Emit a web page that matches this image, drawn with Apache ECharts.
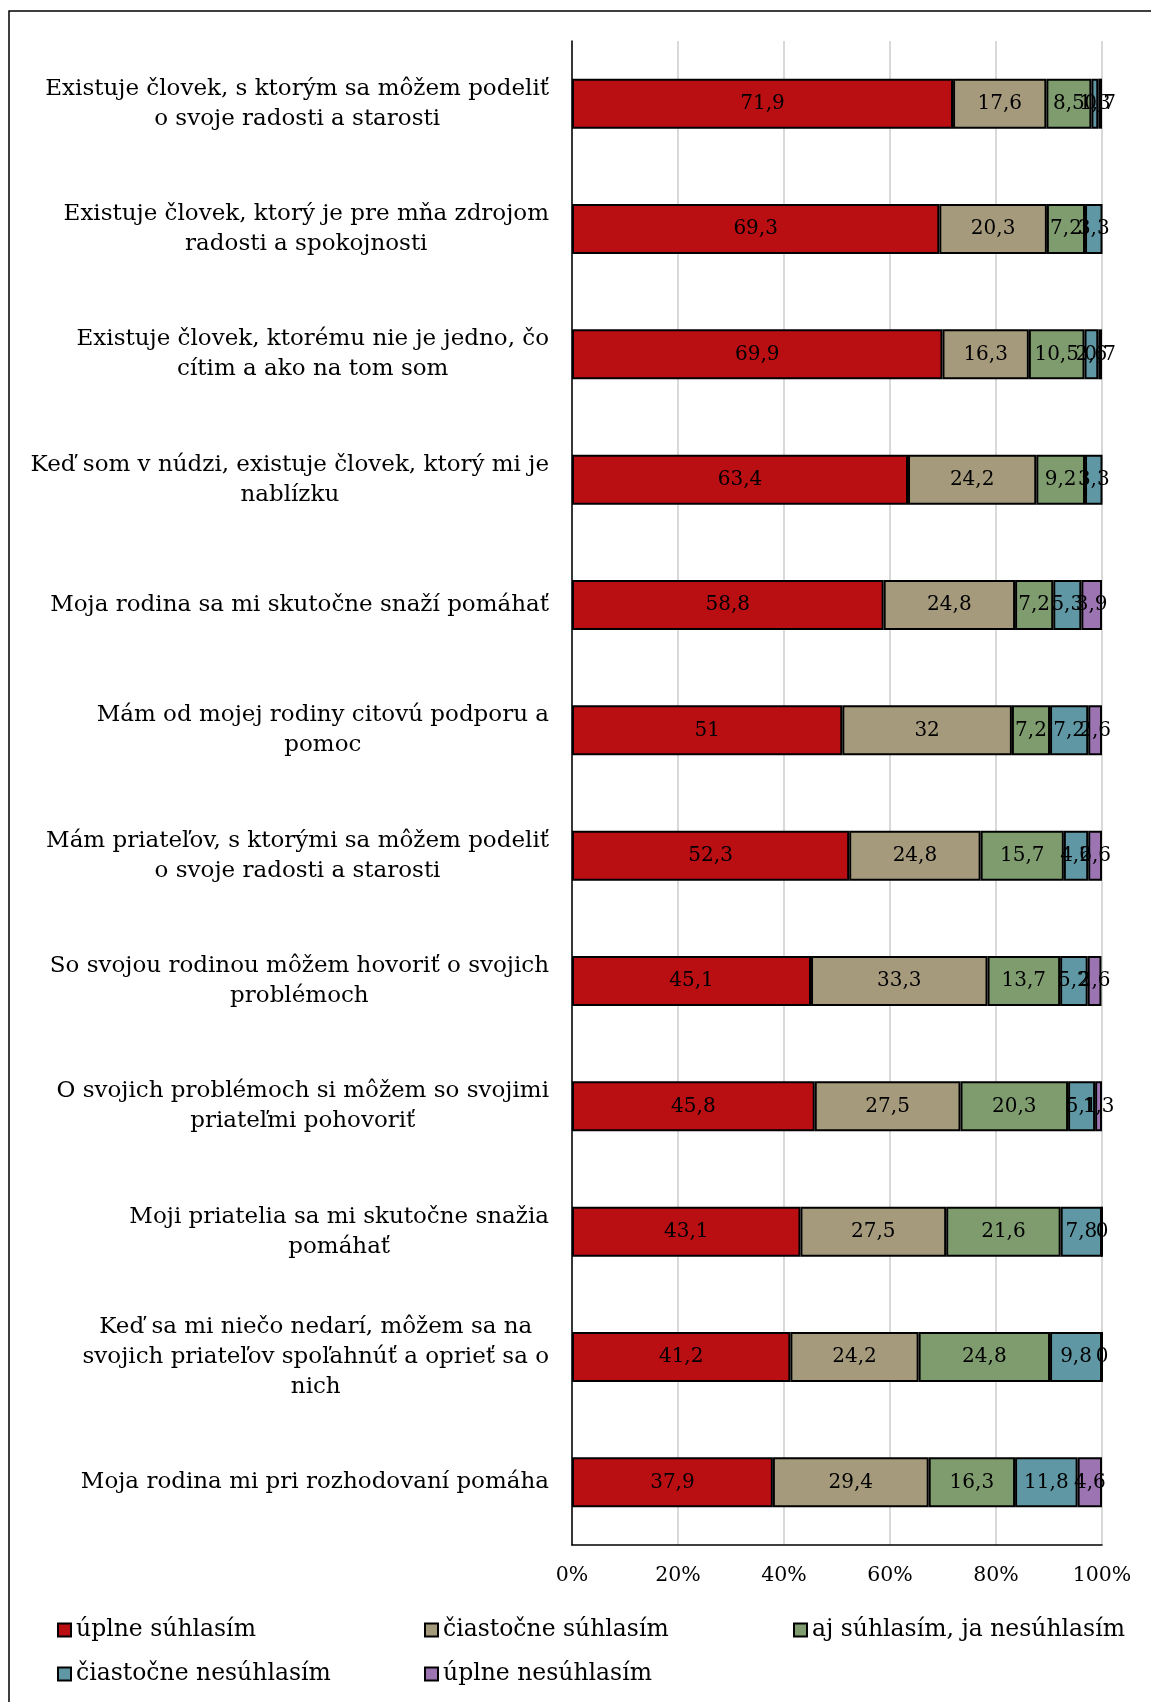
<!DOCTYPE html>
<html>
<head>
<meta charset="utf-8">
<script src="https://cdn.jsdelivr.net/npm/echarts@6/dist/echarts.min.js"></script>
<style>
  html, body { margin: 0; padding: 0; background: #fff; }
  #chart { width: 1151px; height: 1702px; }
</style>
</head>
<body>
<div id="chart"></div>
<script>
// Statements (top to bottom)
const categories = [
  'Existuje človek, s ktorým sa môžem podeliť\no svoje radosti a starosti',
  'Existuje človek, ktorý je pre mňa zdrojom\nradosti a spokojnosti',
  'Existuje človek, ktorému nie je jedno, čo\ncítim a ako na tom som',
  'Keď som v núdzi, existuje človek, ktorý mi je\nnablízku',
  'Moja rodina sa mi skutočne snaží pomáhať',
  'Mám od mojej rodiny citovú podporu a\npomoc',
  'Mám priateľov, s ktorými sa môžem podeliť\no svoje radosti a starosti',
  'So svojou rodinou môžem hovoriť o svojich\nproblémoch',
  'O svojich problémoch si môžem so svojimi\npriateľmi pohovoriť',
  'Moji priatelia sa mi skutočne snažia\npomáhať',
  'Keď sa mi niečo nedarí, môžem sa na\nsvojich priateľov spoľahnúť a oprieť sa o\nnich',
  'Moja rodina mi pri rozhodovaní pomáha'
];

const seriesNames = [
  'úplne súhlasím',
  'čiastočne súhlasím',
  'aj súhlasím, ja nesúhlasím',
  'čiastočne nesúhlasím',
  'úplne nesúhlasím'
];

// Shares in percent
const fullyAgree     = [71.9, 69.3, 69.9, 63.4, 58.8, 51, 52.3, 45.1, 45.8, 43.1, 41.2, 37.9];
const partlyAgree    = [17.6, 20.3, 16.3, 24.2, 24.8, 32, 24.8, 33.3, 27.5, 27.5, 24.2, 29.4];
const neutral        = [8.5, 7.2, 10.5, 9.2, 7.2, 7.2, 15.7, 13.7, 20.3, 21.6, 24.8, 16.3];
const partlyDisagree = [1.3, 3.3, 2.6, 3.3, 5.3, 7.2, 4.6, 5.2, 5.1, 7.8, 9.8, 11.8];
const fullyDisagree  = [0.7, 0, 0.7, 0, 3.9, 2.6, 2.6, 2.6, 1.3, 0, 0, 4.6];

const xTickStep = 20;
const xMax = 100;

const colors = ['#B90E12', '#A69A7D', '#7F9C6F', '#5F98A4', '#9C74B2'];
const FONT = '"DejaVu Serif", "Liberation Serif", serif';

const seriesData = [fullyAgree, partlyAgree, neutral, partlyDisagree, fullyDisagree];

const chart = echarts.init(document.getElementById('chart'), null, { renderer: 'canvas' });

const series = seriesData.map((data, i) => ({
  name: seriesNames[i],
  type: 'bar',
  stack: 'total',
  barWidth: 50,
  data: data,
  itemStyle: { color: colors[i], borderColor: '#000', borderWidth: 2 },
  label: {
    show: true,
    position: 'inside',
    color: '#000',
    fontFamily: FONT,
    fontSize: 20,
    formatter: p => String(p.value).replace('.', ',')
  },
  emphasis: { disabled: true }
}));

const legendBase = {
  orient: 'vertical',
  top: 1618,
  padding: 0,
  itemWidth: 13,
  itemHeight: 13,
  itemGap: 20,
  itemTextGap: 6,
  icon: 'rect',
  selectedMode: false,
  textStyle: { fontFamily: FONT, fontSize: 23.5, color: '#000', lineHeight: 24 }
};

const option = {
  backgroundColor: '#fff',
  animation: false,
  grid: { left: 572, right: 49, top: 41, bottom: 157, containLabel: false },
  legend: [
    Object.assign({}, legendBase, { left: 57, data: [seriesNames[0], seriesNames[3]] }),
    Object.assign({}, legendBase, { left: 424, data: [seriesNames[1], seriesNames[4]] }),
    Object.assign({}, legendBase, { left: 793, data: [seriesNames[2]] })
  ],
  xAxis: {
    type: 'value',
    min: 0,
    max: xMax,
    interval: xTickStep,
    axisLine: { show: true, lineStyle: { color: '#000', width: 1.5 } },
    axisTick: { show: false },
    splitLine: { show: true, lineStyle: { color: '#d9d9d9', width: 2 } },
    axisLabel: {
      margin: 20,
      color: '#000',
      fontFamily: FONT,
      fontSize: 20.5,
      formatter: '{value}%'
    }
  },
  yAxis: {
    type: 'category',
    inverse: true,
    data: categories,
    axisLine: { show: true, lineStyle: { color: '#000', width: 1.5 } },
    axisTick: { show: false },
    axisLabel: {
      margin: 23,
      align: 'right',
      formatter: v => v.split('\n').map(line => '{c|' + line + '}').join('\n'),
      rich: {
        c: { align: 'center', fontFamily: FONT, fontSize: 23, lineHeight: 30, color: '#000' }
      }
    }
  },
  graphic: [{
    type: 'rect',
    silent: true,
    shape: { x: 9, y: 11, width: 1300, height: 1800 },
    style: { fill: 'none', stroke: '#000', lineWidth: 1.5 }
  }],
  series: series
};

chart.setOption(option);
</script>
</body>
</html>
